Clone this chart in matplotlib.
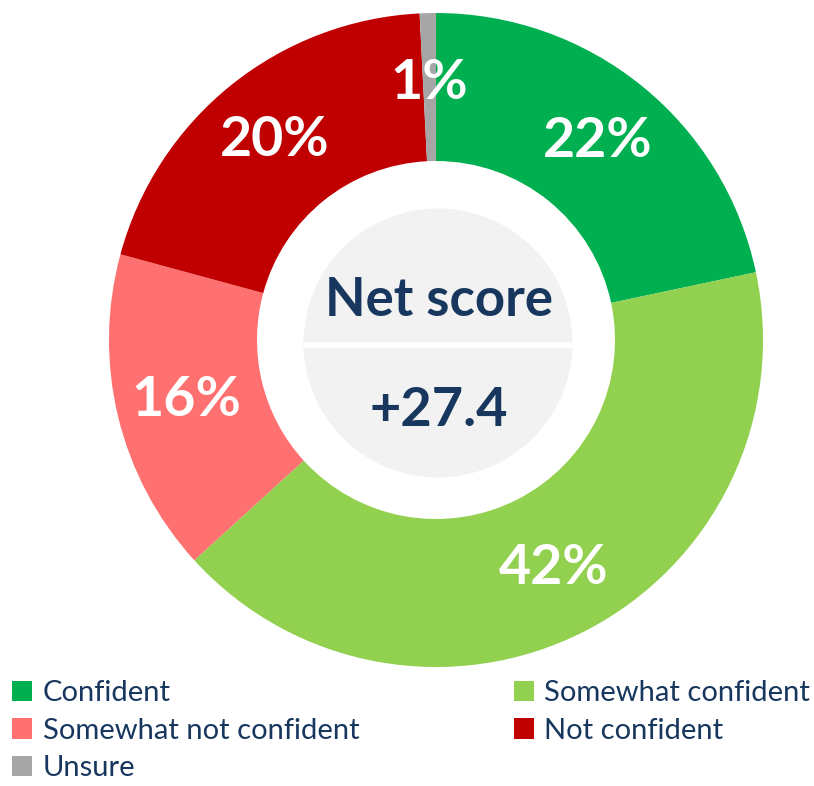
import matplotlib.pyplot as plt
from matplotlib.patches import Circle, Patch

plt.rcParams['font.family'] = ['Lato', 'DejaVu Sans']

categories = ['Confident', 'Somewhat confident', 'Somewhat not confident', 'Not confident', 'Unsure']
values = [21.7, 41.6, 16.0, 20.0, 0.8]
colors = ['#00B050', '#92D050', '#FF7070', '#C00000', '#A6A6A6']
net_score = '+27.4'
navy = '#17375E'

W, H = 814, 786
fig = plt.figure(figsize=(W / 100, H / 100), dpi=100)
ax = fig.add_axes([0, 0, 1, 1])

cx, cy = 436, H - 340
r_out, r_in = 327, 179

wedges, texts, autotexts = ax.pie(
    values, colors=colors, startangle=90, counterclock=False,
    center=(cx, cy), radius=r_out,
    wedgeprops=dict(width=r_out - r_in, linewidth=0),
    autopct=lambda p: f'{p:.0f}%', pctdistance=0.785,
    textprops=dict(color='white', fontsize=40, fontweight='bold'))

# inner grey disc with split line
ax.add_patch(Circle((cx + 2, cy - 3), 134.5, facecolor='#F2F2F2', edgecolor='none'))
ax.plot([cx + 2 - 134, cx + 2 + 134], [cy - 5, cy - 5], color='white', lw=4, solid_capstyle='butt')
ax.text(cx + 3, cy + 39, 'Net score', ha='center', va='center', fontsize=38,
        fontweight='bold', color=navy)
ax.text(cx + 3, cy - 70, net_score, ha='center', va='center', fontsize=39,
        fontweight='bold', color=navy)

ax.set_xlim(0, W)
ax.set_ylim(0, H)
ax.set_aspect('equal')
ax.axis('off')

# legend: row order Confident / Somewhat confident, etc.
order = [0, 2, 4, 1, 3]
handles = [Patch(facecolor=colors[i], edgecolor='none', label=categories[i]) for i in order]
fig.legend(handles=handles, loc='upper left', bbox_to_anchor=(12 / W, 1 - 680 / H),
           ncol=2, frameon=False, fontsize=21, labelcolor=navy,
           handlelength=0.7, handleheight=0.7, handletextpad=0.35,
           labelspacing=0.4, columnspacing=5.3, borderpad=0, borderaxespad=0)

fig.savefig('out.png', dpi=100)
